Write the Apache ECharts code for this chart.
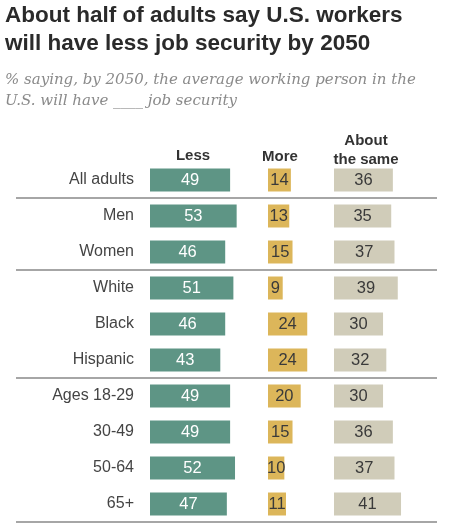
<!DOCTYPE html>
<html><head><meta charset="utf-8">
<script src="https://cdn.jsdelivr.net/npm/echarts@6/dist/echarts.min.js"></script>
<style>html,body{margin:0;padding:0;background:#fff}#c{width:450px;height:525px}</style>
</head><body><div id="c"></div>
<script>
const categories = ['All adults','Men','Women','White','Black','Hispanic','Ages 18-29','30-49','50-64','65+'];
const less = [49,53,46,51,46,43,49,49,52,47];
const more = [14,13,15,9,24,24,20,15,10,11];
const same = [36,35,37,39,30,32,30,36,37,41];
const seriesNames = ['Less','More','About\nthe same'];
const separators = [1,3,6,10];

const chart = echarts.init(document.getElementById('c'), null, {renderer:'canvas'});
const PX = 1.635; // px per percentage point
const TOP = 162, BOTTOM = 3;
const lefts = [150, 268, 334];
const spans = [90, 38, 60];
const colors = ['#5e9585','#dcb65a','#d0ccb9'];
const labelColors = ['#ffffff','#3a3a3a','#3a3a3a'];
const datas = [less, more, same];
const font = 'Liberation Sans, Arial, sans-serif';

const grids = [], xAxes = [], yAxes = [], series = [];
for (let i = 0; i < 3; i++) {
  grids.push({left: lefts[i], top: TOP, bottom: BOTTOM, width: spans[i]*PX});
  xAxes.push({type:'value', gridIndex:i, min:0, max:spans[i], show:false});
  yAxes.push({type:'category', gridIndex:i, data:categories, inverse:true,
    axisLine:{show:false}, axisTick:{show:false}, splitLine:{show:false},
    axisLabel: i === 0 ? {show:true, margin:16, fontSize:16, color:'#444', fontFamily:font} : {show:false}});
  series.push({type:'bar', name:seriesNames[i], xAxisIndex:i, yAxisIndex:i, data:datas[i],
    barWidth:23, itemStyle:{color:colors[i]}, silent:true,
    label:{show:true, position:'inside', fontSize:16.5, color:labelColors[i], fontFamily:font}});
}
// separator grid
grids.push({left:16, right:13, top:TOP, bottom:BOTTOM});
xAxes.push({type:'value', gridIndex:3, min:0, max:1, show:false});
yAxes.push({type:'value', gridIndex:3, min:0, max:categories.length, inverse:true, show:false});
series.push({type:'line', xAxisIndex:3, yAxisIndex:3, data:[], silent:true,
  markLine:{symbol:'none', silent:true, label:{show:false},
    lineStyle:{color:'#a6a6a6', width:2, type:'solid'},
    data: separators.map(v => ({yAxis:v}))}});

const headerStyle = {fontSize:15, fontWeight:'bold', color:'#333', fontFamily:font, lineHeight:19, align:'center'};
chart.setOption({
  animation:false,
  title:[
    {text:'About half of adults say U.S. workers\nwill have less job security by 2050', left:0, top:-3,
      textStyle:{fontSize:22.5, fontWeight:'bold', color:'#2a2a2a', fontFamily:font, lineHeight:28}},
    {text:'% saying, by 2050, the average working person in the\nU.S. will have ____ job security', left:0, top:65,
      textStyle:{fontSize:15, fontStyle:'italic', fontWeight:'normal', color:'#8a8a8a', fontFamily:'DejaVu Serif, serif', lineHeight:21}},
    {text:seriesNames[0], left:188, top:141, textAlign:'center', textStyle:headerStyle},
    {text:seriesNames[1], left:275, top:142, textAlign:'center', textStyle:headerStyle},
    {text:seriesNames[2], left:361, top:126, textAlign:'center', textStyle:headerStyle}
  ],
  grid:grids, xAxis:xAxes, yAxis:yAxes, series:series
});
</script></body></html>
